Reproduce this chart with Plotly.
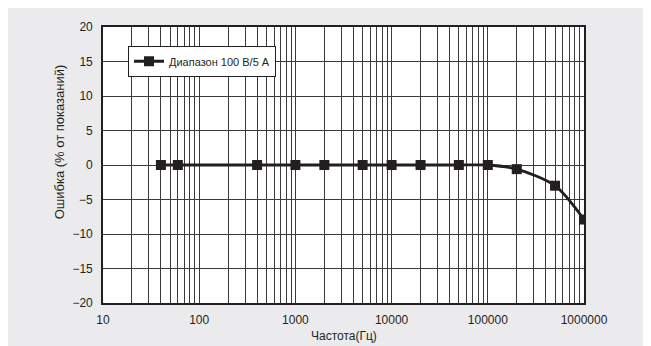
import plotly.graph_objects as go

freq_hz = [40, 60, 400, 1000, 2000, 5000, 10000, 20000, 50000, 100000, 200000, 500000, 1000000]
error_pct = [0, 0, 0, 0, 0, 0, 0, 0, 0, 0, -0.6, -3.0, -7.9]
series_name = "Диапазон 100 В/5 А"
x_ticks = [10, 100, 1000, 10000, 100000, 1000000]
x_ticklabels = ["10", "100", "1000", "10000", "100000", "1000000"]
y_ticks = [-20, -15, -10, -5, 0, 5, 10, 15, 20]
x_title = "Частота(Гц)"
y_title = "Ошибка (% от показаний)"

minor_vals = [m * 10 ** e for e in range(1, 6) for m in range(2, 10)]

INK = "#231f20"
GRID = "#3c3a3b"
BG = "#ebebed"
FONT = "Liberation Sans, Arial, sans-serif"

fig = go.Figure()
fig.add_trace(go.Scatter(
    x=freq_hz, y=error_pct, mode="lines+markers", name=series_name,
    line=dict(color=INK, width=2.8, shape="spline", smoothing=0.8),
    marker=dict(symbol="square", size=10, color=INK),
))

W, H = 643, 338
L, T = 95, 15
pw, ph = 481, 280
R, B = W - L - pw, H - T - ph

fig.add_annotation(text=y_title, xref="paper", yref="paper",
                   x=(59 - 103) / pw, y=1 - (140 - 23) / ph,
                   xanchor="center", yanchor="middle", textangle=-90,
                   showarrow=False, font=dict(size=13, color=INK, family=FONT))
fig.add_annotation(text=x_title, xref="paper", yref="paper",
                   x=0.5, y=-(336 - 303) / ph,
                   xanchor="center", yanchor="middle",
                   showarrow=False, font=dict(size=12, color=INK, family=FONT))

fig.update_layout(
    width=W, height=H,
    margin=dict(l=L, r=R, t=T, b=B),
    paper_bgcolor=BG, plot_bgcolor="white",
    font=dict(family=FONT, color=INK, size=12),
    showlegend=True,
    legend=dict(x=(128 - 103) / pw, y=1 - (42 - 23) / ph, xanchor="left", yanchor="top",
                bgcolor="white", bordercolor=INK, borderwidth=1,
                font=dict(size=11, family=FONT, color=INK),
                itemwidth=30, tracegroupgap=0),
)
fig.update_xaxes(
    type="log", range=[1, 6],
    tickvals=x_ticks, ticktext=x_ticklabels,
    showgrid=True, gridcolor=GRID, gridwidth=1.4,
    minor=dict(tickvals=minor_vals, showgrid=True, gridcolor=GRID, gridwidth=1.4),
    showline=True, linecolor=INK, linewidth=1.6, mirror=True,
    ticks="", ticklabelstandoff=5,
    tickfont=dict(size=12, color=INK),
    zeroline=False,
)
fig.update_yaxes(
    range=[-20, 20], tickvals=y_ticks,
    ticktext=[str(v).replace("-", "−") for v in y_ticks],
    showgrid=True, gridcolor=GRID, gridwidth=1.4,
    showline=True, linecolor=INK, linewidth=1.6, mirror=True,
    ticks="", ticklabelstandoff=6,
    tickfont=dict(size=12, color=INK),
    zeroline=False,
)

fig.write_html("out.html")
